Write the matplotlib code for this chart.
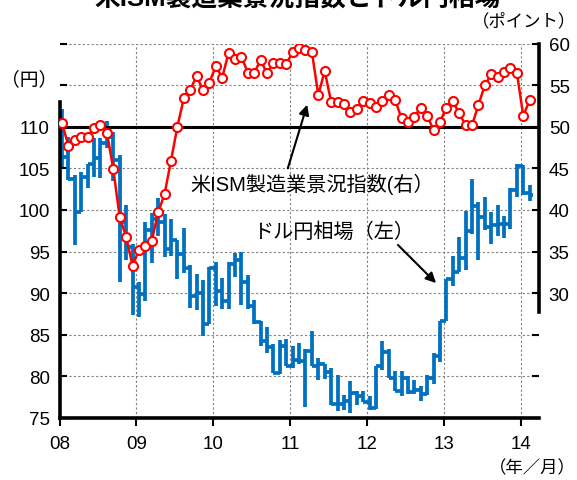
import numpy as np
import matplotlib
matplotlib.use('Agg')
import matplotlib.pyplot as plt

plt.rcParams['font.family'] = ['Liberation Sans', 'Noto Sans CJK JP']

# ドル円 月次 高値・安値・終値 (2008/01 - 2014/02)
yen_high = [112.1, 108.8, 104.2, 104.6, 105.5, 108.6, 108.6, 110.7, 109.4, 106.6, 100.6, 95.9,
            91.3, 98.5, 99.6, 101.4, 99.5, 98.9, 96.4, 97.8, 93.4, 92.3, 91.6, 93.1,
            93.8, 91.8, 93.8, 94.8, 95.0, 92.2, 89.2, 86.6, 85.9, 83.9, 84.4, 84.5,
            83.7, 84.0, 83.3, 85.5, 82.2, 81.5, 81.0, 80.2, 77.8, 79.5, 78.3, 78.3,
            77.7, 81.2, 84.2, 83.3, 80.6, 80.6, 80.0, 79.6, 78.9, 80.2, 82.8, 86.6,
            91.7, 94.5, 96.7, 99.9, 103.7, 101.0, 101.6, 99.8, 100.6, 99.3, 102.6, 105.5,
            105.4, 103.0]
yen_low = [105.2, 103.6, 95.8, 99.8, 102.6, 104.0, 103.8, 107.4, 103.5, 91.4, 94.0, 87.4,
           87.1, 89.0, 93.6, 96.9, 94.4, 94.5, 91.7, 92.4, 88.2, 88.0, 84.8, 86.3,
           88.5, 88.1, 88.1, 92.0, 88.6, 88.1, 86.3, 83.6, 82.8, 80.4, 80.3, 81.2,
           81.0, 81.5, 76.3, 81.2, 79.6, 79.7, 76.6, 75.9, 76.0, 75.6, 76.6, 76.9,
           76.0, 76.1, 80.8, 79.8, 78.2, 77.7, 77.9, 77.9, 77.1, 77.8, 79.1, 81.7,
           86.6, 90.9, 92.6, 92.8, 97.1, 94.0, 97.6, 95.9, 96.9, 96.6, 97.7, 101.6,
           101.8, 101.1]
yen_close = [106.4, 103.7, 99.7, 104.0, 105.5, 106.2, 108.1, 108.8, 106.0, 98.5, 95.5, 90.7,
             89.9, 97.6, 98.9, 98.6, 95.3, 96.4, 94.7, 93.0, 89.7, 90.0, 86.3, 93.0,
             90.3, 89.0, 93.5, 94.0, 91.3, 88.4, 86.5, 84.2, 83.5, 80.4, 83.7, 81.2,
             82.0, 81.8, 83.1, 81.2, 81.5, 80.5, 76.7, 76.7, 77.0, 78.0, 77.6, 76.9,
             76.2, 81.2, 82.9, 79.8, 78.3, 79.8, 78.1, 78.4, 77.9, 79.8, 82.5, 86.6,
             91.7, 92.6, 94.2, 97.5, 100.5, 99.1, 97.9, 98.2, 98.3, 98.3, 102.4, 105.3,
             102.0, 101.8]
yen_first_open = 111.7

# 米ISM製造業景況指数
ism = [50.4, 47.7, 48.4, 48.8, 48.8, 49.8, 50.2, 49.3, 44.9, 39.1, 36.8, 33.3,
       35.2, 35.7, 36.3, 39.7, 41.9, 45.9, 50.0, 53.4, 54.4, 56.1, 54.4, 55.3,
       57.3, 55.9, 58.9, 58.1, 58.4, 56.5, 56.5, 58.0, 56.4, 57.7, 57.6, 57.5,
       59.0, 59.4, 59.2, 59.0, 53.8, 56.7, 53.0, 53.0, 52.7, 51.8, 52.1, 53.1,
       52.8, 52.4, 53.1, 53.8, 53.2, 51.0, 50.6, 51.2, 52.3, 51.3, 49.6, 50.6,
       52.3, 53.1, 51.6, 50.2, 50.2, 52.6, 55.0, 56.3, 56.0, 56.6, 57.1, 56.5,
       51.3, 53.2]

years = list(range(2008, 2015))
year_labels = ['08', '09', '10', '11', '12', '13', '14']

W, H = 577, 481


def fp(x, y):
    # ピクセル座標(左上原点) -> figure fraction
    return (x / W, 1 - y / H)


blue = '#0070C0'
grid_kw = dict(color='#808080', linestyle=(0, (2, 2)), lw=0.8)

fig = plt.figure(figsize=(W / 100, H / 100), dpi=100)
ax = fig.add_axes([59.5 / W, 1 - 419 / H, (539 - 59.5) / W, (419 - 44.5) / H])
ax2 = ax.twinx()

t = 2008 + (np.arange(len(ism)) + 0.4) / 12
half = 0.5 / 12
yen_open = [yen_first_open] + yen_close[:-1]

# グリッド
for v in range(80, 121, 5):
    ax.axhline(v, zorder=0, **grid_kw)
for yr in years[1:]:
    ax.axvline(yr, zorder=0, **grid_kw)

# ドル円 (左軸)
ax.vlines(t, yen_low, yen_high, color=blue, lw=2.7, zorder=2)
ax.hlines(yen_open, t - half, t, color=blue, lw=2.7, zorder=2)
ax.hlines(yen_close, t, t + half, color=blue, lw=2.7, zorder=2)

ax.set_xlim(2008, 2014.238)
ax.set_ylim(75, 120)
ax.set_yticks(range(75, 121, 5))
ax.set_yticklabels([str(v) if v <= 110 else '' for v in range(75, 121, 5)])
ax.set_xticks(years)
ax.set_xticklabels(year_labels)
ax.tick_params(axis='y', direction='in', length=5, width=1.5, labelsize=13.5, pad=7)
ax.tick_params(axis='x', direction='out', length=6, width=1.5, labelsize=13.5, pad=6)

for s in ['top', 'right']:
    ax.spines[s].set_visible(False)
ax.spines['left'].set_linewidth(2.6)
ax.spines['left'].set_bounds(75, 113)
ax.spines['bottom'].set_linewidth(2.6)

# ISM (右軸)
ax2.axhline(50, color='black', lw=2.2, zorder=1)
ax2.plot(t, ism, color='red', lw=1.8, marker='o', ms=6.5, mfc='white',
         mec='red', mew=1.5, zorder=3)
ax2.set_ylim(15, 60)
ax2.set_yticks(range(15, 61, 5))
ax2.set_yticklabels([str(v) if v >= 30 else '' for v in range(15, 61, 5)])
ax2.tick_params(axis='y', direction='in', length=5, width=1.5, labelsize=13.5, pad=7)
for s in ['top', 'left', 'bottom']:
    ax2.spines[s].set_visible(False)
ax2.spines['right'].set_linewidth(2.6)
ax2.spines['right'].set_bounds(27.7, 60)

# 文字
fig.text(*fp(298, 6), '米ISM製造業景況指数とドル円相場', ha='center', va='baseline',
         fontsize=18.5, fontweight='bold')
fig.text(*fp(29, 80), '（円）', ha='center', va='center', fontsize=13.5)
fig.text(*fp(576, 21), '（ポイント）', ha='right', va='center', fontsize=12.5)
fig.text(*fp(576, 468), '（年／月）', ha='right', va='center', fontsize=12.5)

ax.annotate('', xy=fp(308, 103), xycoords='figure fraction',
            xytext=fp(287, 172), textcoords='figure fraction',
            arrowprops=dict(arrowstyle='-|>', color='black', lw=1.5, mutation_scale=15))
ax.annotate('', xy=fp(438, 286), xycoords='figure fraction',
            xytext=fp(396, 244), textcoords='figure fraction',
            arrowprops=dict(arrowstyle='-|>', color='black', lw=1.5, mutation_scale=15))
fig.text(*fp(190, 184), '米ISM製造業景況指数(右）', ha='left', va='center', fontsize=14.5)
fig.text(*fp(253, 232), 'ドル円相場（左）', ha='left', va='center', fontsize=14.5)

fig.savefig('out.png', dpi=100)
